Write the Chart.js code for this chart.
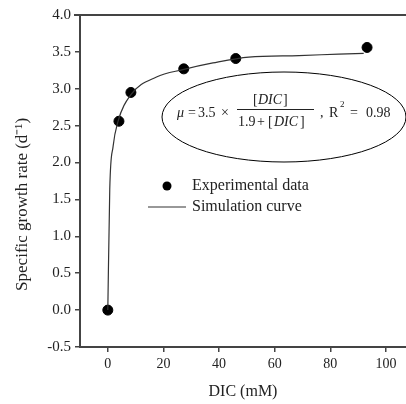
<!DOCTYPE html>
<html>
<head>
<meta charset="utf-8">
<script src="https://cdn.jsdelivr.net/npm/chart.js@4.4.0/dist/chart.umd.min.js"></script>
<style>
  html, body { margin: 0; padding: 0; background: #fff; overflow: hidden; }
  #wrap { width: 406px; height: 404px; }
</style>
</head>
<body>
<div id="wrap"><canvas id="myChart"></canvas></div>
<script>
// experimental points
var dicValues = [0, 4, 8.3, 27.3, 46, 93.2];
var rateValues = [0, 2.56, 2.95, 3.27, 3.41, 3.56];

// simulation curve
var curveX = [0, 0.7, 1.9, 3.6, 8.3, 17.5, 27, 37.8, 50.7, 68.7, 83, 92];
var curveY = [0, 1.64, 2.22, 2.55, 2.92, 3.16, 3.26, 3.35, 3.43, 3.45, 3.47, 3.48];

var xTicks = [0, 20, 40, 60, 80, 100];
var yTicks = [-0.5, 0, 0.5, 1, 1.5, 2, 2.5, 3, 3.5, 4];

var serif = "'Liberation Serif', 'Times New Roman', serif";
var ink = "#222";
var axisColor = "#444";

function toPoints(xs, ys) {
  return xs.map((x, i) => ({ x: x, y: ys[i] }));
}

function txt(ctx, s, x, y, size, italic) {
  ctx.font = (italic ? "italic " : "") + size + "px " + serif;
  ctx.fillText(s, x, y);
}

// top frame line, the equation ellipse and the legend
var extras = {
  id: "extras",
  afterDraw(chart) {
    var ctx = chart.ctx;
    var a = chart.chartArea;
    ctx.save();
    ctx.strokeStyle = axisColor;
    ctx.lineWidth = 2;
    ctx.beginPath();
    ctx.moveTo(a.left - 6, a.top);
    ctx.lineTo(a.right, a.top);
    ctx.stroke();

    // ellipse
    ctx.strokeStyle = "#000";
    ctx.lineWidth = 1;
    ctx.beginPath();
    ctx.ellipse(284, 117, 122, 45, 0, 0, Math.PI * 2);
    ctx.stroke();

    // equation
    ctx.fillStyle = ink;
    ctx.textBaseline = "middle";
    ctx.textAlign = "left";
    txt(ctx, "\u03BC", 177, 113, 14, true);
    txt(ctx, "=", 188, 113, 14);
    txt(ctx, "3.5", 198, 113, 14);
    txt(ctx, "\u00D7", 221, 113, 14);
    txt(ctx, "[", 253, 100, 14);
    txt(ctx, "DIC", 258, 100, 14, true);
    txt(ctx, "]", 283, 100, 14);
    txt(ctx, "1.9", 238, 122, 14);
    txt(ctx, "+", 257, 122, 14);
    txt(ctx, "[", 268, 122, 14);
    txt(ctx, "DIC", 274, 122, 14, true);
    txt(ctx, "]", 300, 122, 14);
    ctx.strokeStyle = ink;
    ctx.lineWidth = 1;
    ctx.beginPath();
    ctx.moveTo(237, 109.5);
    ctx.lineTo(314, 109.5);
    ctx.stroke();
    txt(ctx, ",", 320, 113, 14);
    txt(ctx, "R", 329, 113, 14);
    txt(ctx, "2", 340, 105, 9);
    txt(ctx, "=", 350, 113, 14);
    txt(ctx, "0.98", 366, 113, 14);

    // legend
    ctx.fillStyle = "#000";
    ctx.beginPath();
    ctx.arc(167, 186, 4.5, 0, Math.PI * 2);
    ctx.fill();
    ctx.strokeStyle = "#333";
    ctx.lineWidth = 1.2;
    ctx.beginPath();
    ctx.moveTo(148, 207);
    ctx.lineTo(186, 207);
    ctx.stroke();
    ctx.fillStyle = ink;
    txt(ctx, "Experimental data", 192, 186, 16);
    txt(ctx, "Simulation curve", 192, 207, 16);
    ctx.restore();
  },
};

var ctx = document.getElementById("myChart").getContext("2d");
var myChart = new Chart(ctx, {
  type: "scatter",
  data: {
    datasets: [
      {
        label: "Simulation curve",
        data: toPoints(curveX, curveY),
        showLine: true,
        borderColor: "#333",
        borderWidth: 1.2,
        pointRadius: 0,
        cubicInterpolationMode: "monotone",
      },
      {
        label: "Experimental data",
        data: toPoints(dicValues, rateValues),
        backgroundColor: "#000",
        borderColor: "#000",
        pointRadius: 5,
      },
    ],
  },
  options: {
    responsive: true,
    maintainAspectRatio: false,
    animation: false,
    layout: { autoPadding: false, padding: { top: 15, right: 0, left: 0, bottom: 0 } },
    plugins: {
      legend: { display: false },
      tooltip: { enabled: false },
    },
    scales: {
      x: {
        type: "linear",
        min: -10,
        max: 107.2,
        afterBuildTicks: (s) => {
          s.ticks = xTicks.map((v) => ({ value: v }));
        },
        afterFit: (s) => {
          s.height = 57;
        },
        grid: {
          drawOnChartArea: false,
          drawTicks: true,
          tickLength: 5,
          color: axisColor,
          lineWidth: 1.5,
        },
        border: { color: axisColor, width: 2 },
        ticks: {
          color: ink,
          font: { family: serif, size: 14 },
          padding: 4,
        },
        title: {
          display: true,
          text: "DIC (mM)",
          color: ink,
          font: { family: serif, size: 16 },
          padding: { top: 4, bottom: 3 },
        },
      },
      y: {
        min: -0.5,
        max: 4,
        afterBuildTicks: (s) => {
          s.ticks = yTicks.map((v) => ({ value: v }));
        },
        afterFit: (s) => {
          s.width = 80;
        },
        grid: {
          drawOnChartArea: false,
          drawTicks: true,
          tickLength: 5,
          color: axisColor,
          lineWidth: 1.5,
        },
        border: { color: axisColor, width: 2 },
        ticks: {
          color: ink,
          font: { family: serif, size: 15 },
          padding: 4,
          callback: (v) => v.toFixed(1),
        },
        title: {
          display: true,
          // trailing spaces push the label down to where the original sits
          text: "Specific growth rate (d\u207B\u00B9)" + "\u00A0".repeat(11),
          color: ink,
          font: { family: serif, size: 17 },
          padding: { top: 12, bottom: 4 },
        },
      },
    },
  },
  plugins: [extras],
});
</script>
</body>
</html>
